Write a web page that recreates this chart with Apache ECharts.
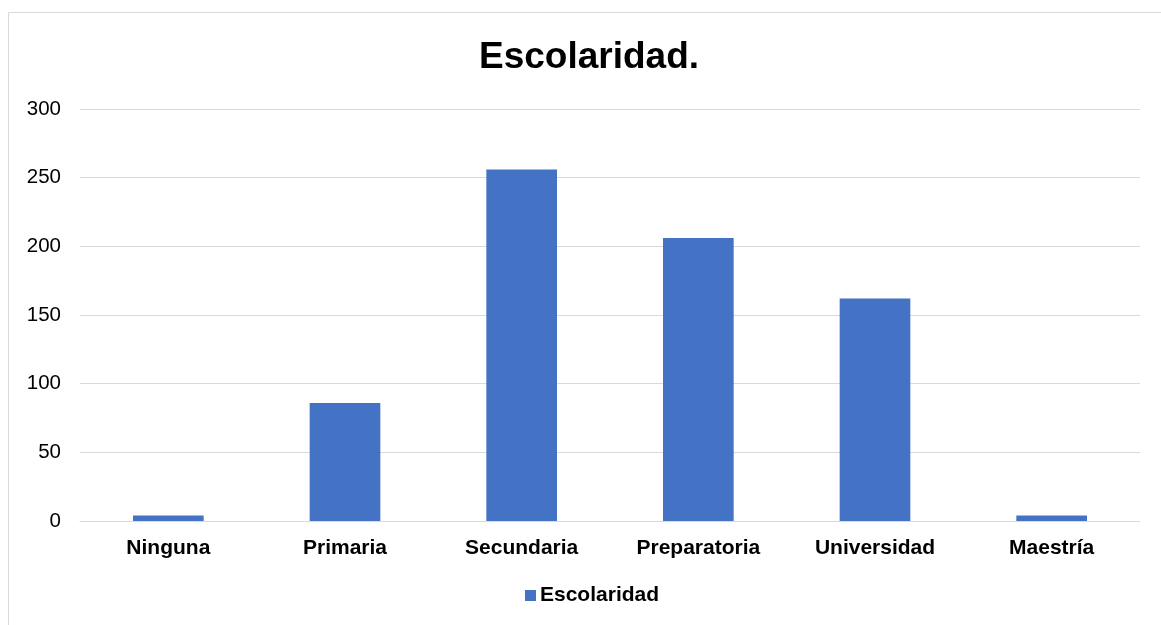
<!DOCTYPE html>
<html>
<head>
<meta charset="utf-8">
<script src="https://cdn.jsdelivr.net/npm/echarts@6/dist/echarts.min.js"></script>
<style>
html,body{margin:0;padding:0;background:#fff;}
#chart{width:1161px;height:625px;}
</style>
</head>
<body>
<div id="chart"></div>
<script>
var titleText = 'Escolaridad.';
var seriesName = 'Escolaridad';
var categories = ['Ninguna', 'Primaria', 'Secundaria', 'Preparatoria', 'Universidad', 'Maestría'];
var values = [4, 86, 256, 206, 162, 4];
var yMin = 0, yMax = 300, yStep = 50;

var font = '"Liberation Sans", Arial, sans-serif';
var chart = echarts.init(document.getElementById('chart'), null, {renderer: 'canvas'});
chart.setOption({
  animation: false,
  backgroundColor: '#ffffff',
  graphic: [{
    type: 'rect',
    shape: {x: 8.5, y: 12.5, width: 1300, height: 800},
    style: {fill: 'none', stroke: '#d9d9d9', lineWidth: 1},
    silent: true,
    z: -1
  }],
  title: {
    text: titleText,
    left: 479,
    top: 39,
    padding: 0,
    textStyle: {fontFamily: font, fontSize: 37, fontWeight: 'bold', color: '#000'}
  },
  legend: {
    data: [seriesName],
    top: 585,
    left: 525,
    padding: 0,
    itemWidth: 11,
    itemHeight: 11,
    itemGap: 5,
    icon: 'rect',
    textStyle: {fontFamily: font, fontSize: 21, fontWeight: 'bold', color: '#000', padding: [0, 0, 0, -1]}
  },
  grid: {left: 80, right: 21, top: 109, bottom: 104, containLabel: false},
  xAxis: {
    type: 'category',
    data: categories,
    axisLine: {show: true, lineStyle: {color: '#d9d9d9', width: 1}},
    axisTick: {show: false},
    axisLabel: {fontFamily: font, fontSize: 21, fontWeight: 'bold', color: '#000', margin: 17, interval: 0}
  },
  yAxis: {
    type: 'value',
    min: yMin,
    max: yMax,
    interval: yStep,
    axisLine: {show: false},
    axisTick: {show: false},
    splitLine: {lineStyle: {color: '#d9d9d9', width: 1}},
    axisLabel: {fontFamily: font, fontSize: 20.5, color: '#000', margin: 19}
  },
  series: [{
    name: seriesName,
    type: 'bar',
    data: values,
    barWidth: '40%',
    itemStyle: {color: '#4472C4'}
  }]
});
</script>
</body>
</html>
